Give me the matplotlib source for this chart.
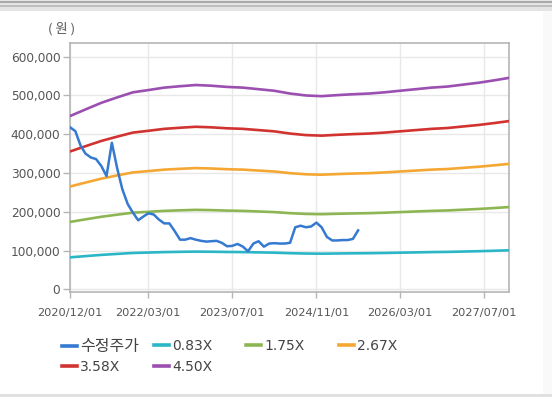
import numpy as np
import pandas as pd
import matplotlib
matplotlib.use("Agg")
import matplotlib.pyplot as plt
import matplotlib.ticker as mticker
from matplotlib.lines import Line2D
from matplotlib.patches import Rectangle

plt.rcParams['font.family'] = ['DejaVu Sans', 'Noto Sans CJK KR']

# monthly adjusted price (won), 2020/12 .. 2025/07
price_start = '2020-12-01'
price = [418000, 408000, 370000, 350000, 340000, 336000, 318000, 292000,
         378000, 312000, 258000, 220000, 198000, 178000, 188000, 196000,
         193000, 180000, 170000, 170000, 150000, 128000, 128000, 132000,
         128000, 125000, 123000, 124000, 125000, 120000, 111000, 112000,
         117000, 110000, 98000, 118000, 124000, 110000, 118000, 119000,
         118000, 118000, 120000, 160000, 164000, 160000, 162000, 172000,
         160000, 135000, 126000, 126000, 127000, 127000, 130000, 152000]

# quarterly BPS (won), 2020/12 .. 2027/12
bps_start = '2020-12-01'
bps = [99300, 103100, 106900, 110000, 112900, 114200, 115600, 116400,
       117100, 116700, 116000, 115600, 114700, 113800, 112200, 111100,
       110700, 111300, 111800, 112200, 112900, 113800, 114700, 115600,
       116200, 117300, 118400, 119800, 121300]

multiples = [0.83, 1.75, 2.67, 3.58, 4.50]
band_labels = ['0.83X', '1.75X', '2.67X', '3.58X', '4.50X']
band_colors = ['#2bb6c8', '#8db653', '#f5a733', '#d13330', '#9b4fb0']
price_label = '수정주가'
price_color = '#3579d0'

xtick_dates = ['2020-12-01', '2022-03-01', '2023-07-01', '2024-11-01',
               '2026-03-01', '2027-07-01']
xtick_labels = ['2020/12/01', '2022/03/01', '2023/07/01', '2024/11/01',
                '2026/03/01', '2027/07/01']
yticks = [0, 100000, 200000, 300000, 400000, 500000, 600000]

price_dates = pd.date_range(price_start, periods=len(price), freq='MS')
bps_dates = pd.date_range(bps_start, periods=len(bps), freq='3MS')
bps_arr = np.array(bps, dtype=float)

fig = plt.figure(figsize=(5.52, 3.97), dpi=100)
fig.patch.set_facecolor('white')

# window chrome: gray bars at top/bottom, light strip on the right
fig.patches.append(Rectangle((0, 1 - 11 / 397), 1, 11 / 397, transform=fig.transFigure,
                             facecolor='#e4e4e4', edgecolor='none', zorder=0))
fig.patches.append(Rectangle((0, 1 - 3 / 397), 1, 2 / 397, transform=fig.transFigure,
                             facecolor='#a9a9a9', edgecolor='none', zorder=0))
fig.patches.append(Rectangle((0, 1 - 7 / 397), 1, 2 / 397, transform=fig.transFigure,
                             facecolor='#bdbdbd', edgecolor='none', zorder=0))
fig.patches.append(Rectangle((543 / 552, 0), 9 / 552, 1 - 11 / 397, transform=fig.transFigure,
                             facecolor='#f9f9f9', edgecolor='none', zorder=0))
fig.patches.append(Rectangle((0, 0), 1, 3 / 397, transform=fig.transFigure,
                             facecolor='#e0e0e0', edgecolor='none', zorder=0))

ax = fig.add_axes([70 / 552, (397 - 291.7) / 397, 439.3 / 552, 248.7 / 397])

handles = []
h, = ax.plot(price_dates, price, color=price_color, lw=1.8, zorder=5)
handles.append((h, price_label))
for m, lab, col in zip(multiples, band_labels, band_colors):
    h, = ax.plot(bps_dates, bps_arr * m, color=col, lw=1.9, zorder=3)
    handles.append((h, lab))

ax.set_xlim(pd.Timestamp('2020-12-01'), pd.Timestamp('2027-11-26'))
ax.set_ylim(-6200, 635300)
ax.set_xticks(pd.to_datetime(xtick_dates))
ax.set_xticklabels(xtick_labels)
ax.set_yticks(yticks)
ax.yaxis.set_major_formatter(mticker.FuncFormatter(lambda v, p: f'{int(v):,}'))

ax.grid(True, color='#e8e8e8', lw=1)
ax.set_axisbelow(True)
for s in ax.spines.values():
    s.set_color('#b5b5b5')
    s.set_linewidth(1.2)
ax.tick_params(axis='y', length=5, width=1, color='#b5b5b5', pad=2,
               labelsize=8.7, labelcolor='#555555')
ax.tick_params(axis='x', length=4, width=1, color='#b5b5b5', pad=8,
               labelsize=8.2, labelcolor='#555555')

fig.text(62 / 552, 1 - 29 / 397, '( 원 )', ha='center', va='center',
         fontsize=9.5, color='#555555', family=['Noto Sans CJK KR', 'DejaVu Sans'])

# legend: one entry per slot, two rows of four columns
col_x = [62, 154, 246, 339]
row_y = [346, 367]
slots = [(0, 0), (0, 1), (0, 2), (0, 3), (1, 0), (1, 1)]
for (hline, lab), (r, c) in zip(handles, slots):
    hs = [Line2D([], [], color=hline.get_color(), lw=2.6)]
    leg = fig.legend(hs, [lab], loc='center left',
                     bbox_to_anchor=(col_x[c] / 552, 1 - row_y[r] / 397),
                     frameon=False, fontsize=10, handlelength=1.05, handletextpad=0.25,
                     borderpad=0, borderaxespad=0)
    for t in leg.get_texts():
        t.set_color('#444444')
        if lab == price_label:
            t.set_fontsize(11.5)

fig.savefig('out.png', dpi=100, facecolor=fig.get_facecolor())
